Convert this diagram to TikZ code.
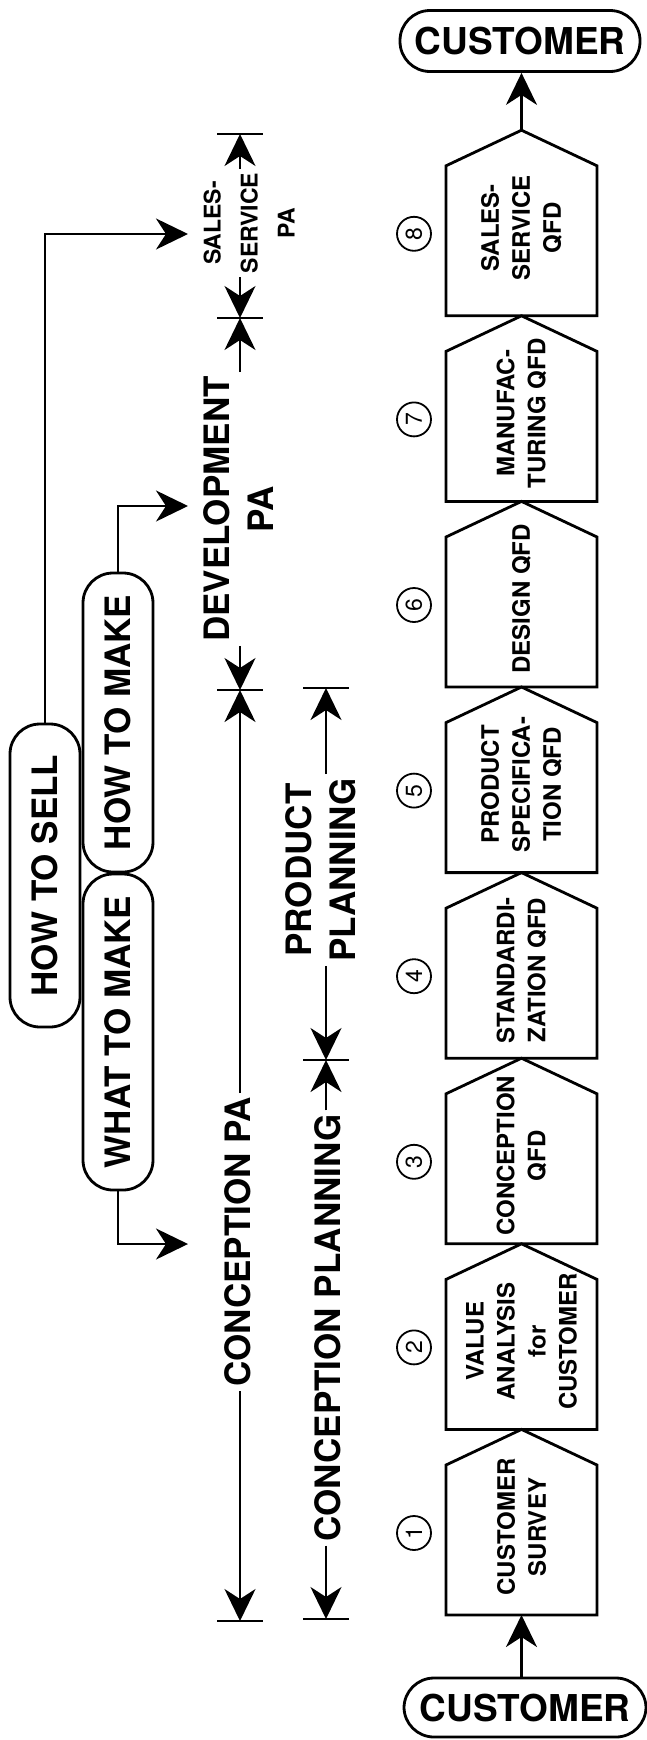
\documentclass[tikz,border=0pt]{standalone}
\usepackage{fontspec}
\setmainfont{TeX Gyre Heros}
\usetikzlibrary{arrows.meta}

\begin{document}
\begin{tikzpicture}[x=1pt,y=-1pt,
        lbl/.style={font=\fontsize{35}{44}\selectfont\bfseries,align=center,inner sep=4pt,rotate=90},
        pill/.style={draw,line width=2.8pt,rounded corners=30pt},
        qfdline/.style={line width=2.8pt},
        qfdtext/.style={font=\fontsize{24}{31}\selectfont\bfseries,align=center,inner sep=0pt,rotate=90},
        num/.style={circle,draw,line width=1.8pt,minimum size=34pt,inner sep=0pt,rotate=90,font=\fontsize{23}{23}\selectfont},
        arr/.style={line width=2.3pt,-{Stealth[length=32pt,width=31pt,inset=10pt]}},
        tick/.style={line width=2.6pt}]
        \useasboundingbox (0,0) rectangle (647,1740);
        \foreach \k/\txt in {1/{CUSTOMER\\SURVEY},2/{VALUE\\ANALYSIS\\for\\CUSTOMER},
                3/{CONCEPTION\\QFD},4/{STANDARDI-\\ZATION QFD},5/{PRODUCT\\SPECIFICA-\\TION QFD},
                6/{DESIGN QFD},7/{MANUFAC-\\TURING QFD},8/{SALES-\\SERVICE\\QFD}}{
            \pgfmathsetmacro{\yb}{1615-(\k-1)*185.6}
            \draw[qfdline] (446,\yb) -- (597,\yb) -- (597,\yb-150)
                -- (521.5,\yb-185.6) -- (446,\yb-150) -- cycle;
            \coordinate (base\k) at (521.5,\yb);
            \coordinate (apex\k) at (521.5,\yb-185.6);
            \node[qfdtext] (q\k) at (521.5,\yb-88) {\txt};
            \node[num] (n\k) at (414,\yb-82) {\k};
        }
        \node[pill,font=\fontsize{37}{37}\selectfont\bfseries,minimum width=240pt,minimum height=61pt]
            (cusTop) at (520,41) {CUSTOMER};
        \node[pill,font=\fontsize{37}{37}\selectfont\bfseries,minimum width=242pt,minimum height=59pt]
            (cusBot) at (525,1707.5) {CUSTOMER};
        \draw[arr] (apex8) -- (apex8 |- cusTop.south);
        \draw[arr] (cusBot.north -| base1) -- (base1);

        \node[pill,lbl,minimum width=303pt,minimum height=70pt] (sell) at (45,875.5) {HOW TO SELL};
        \node[pill,lbl,minimum width=299pt,minimum height=70pt] (howmake) at (118,722.5) {HOW TO MAKE};
        \node[pill,lbl,minimum width=316pt,minimum height=70pt] (whatmake) at (118,1032) {WHAT TO MAKE};
        \coordinate (toSS) at (188,234);
        \coordinate (toDev) at (188,506);
        \coordinate (toCon) at (188,1244);
        \draw[arr] (sell.east) |- (toSS);
        \draw[arr] (howmake.east) |- (toDev);
        \draw[arr] (whatmake.west) |- (toCon);

        \coordinate (t1) at (240,134);
        \coordinate (t2) at (240,318);
        \coordinate (t3) at (240,690);
        \coordinate (t6) at (240,1621);
        \coordinate (t4) at (326,688);
        \coordinate (t5) at (326,1060);
        \coordinate (t7) at (326,1619);
        \foreach \t in {t1,t2,t3,t4,t5,t6,t7}
            \draw[tick] (\t) ++(-23,0) -- ++(46,0);
        \node[lbl,font=\fontsize{23}{37}\selectfont\bfseries] (ssPA) at (249,223) {SALES-\\SERVICE\\PA};
        \node[lbl] (devPA) at (239,509) {DEVELOPMENT\\PA};
        \node[lbl] (conPA) at (238,1242) {CONCEPTION PA};
        \node[lbl] (prodPl) at (321,870) {PRODUCT\\PLANNING};
        \node[lbl] (conPl) at (328,1328) {CONCEPTION PLANNING};
        \draw[arr] (ssPA.east -| t1) -- (t1);
        \draw[arr] (ssPA.west -| t2) -- (t2);
        \draw[arr] (devPA.east -| t2) -- (t2);
        \draw[arr] (devPA.west -| t3) -- (t3);
        \draw[arr] (conPA.east -| t3) -- (t3);
        \draw[arr] (conPA.west -| t6) -- (t6);
        \draw[arr] (prodPl.east -| t4) -- (t4);
        \draw[arr] (prodPl.west -| t5) -- (t5);
        \draw[arr] (conPl.east -| t5) -- (t5);
        \draw[arr] (conPl.west -| t7) -- (t7);
    \end{tikzpicture}
\end{document}
